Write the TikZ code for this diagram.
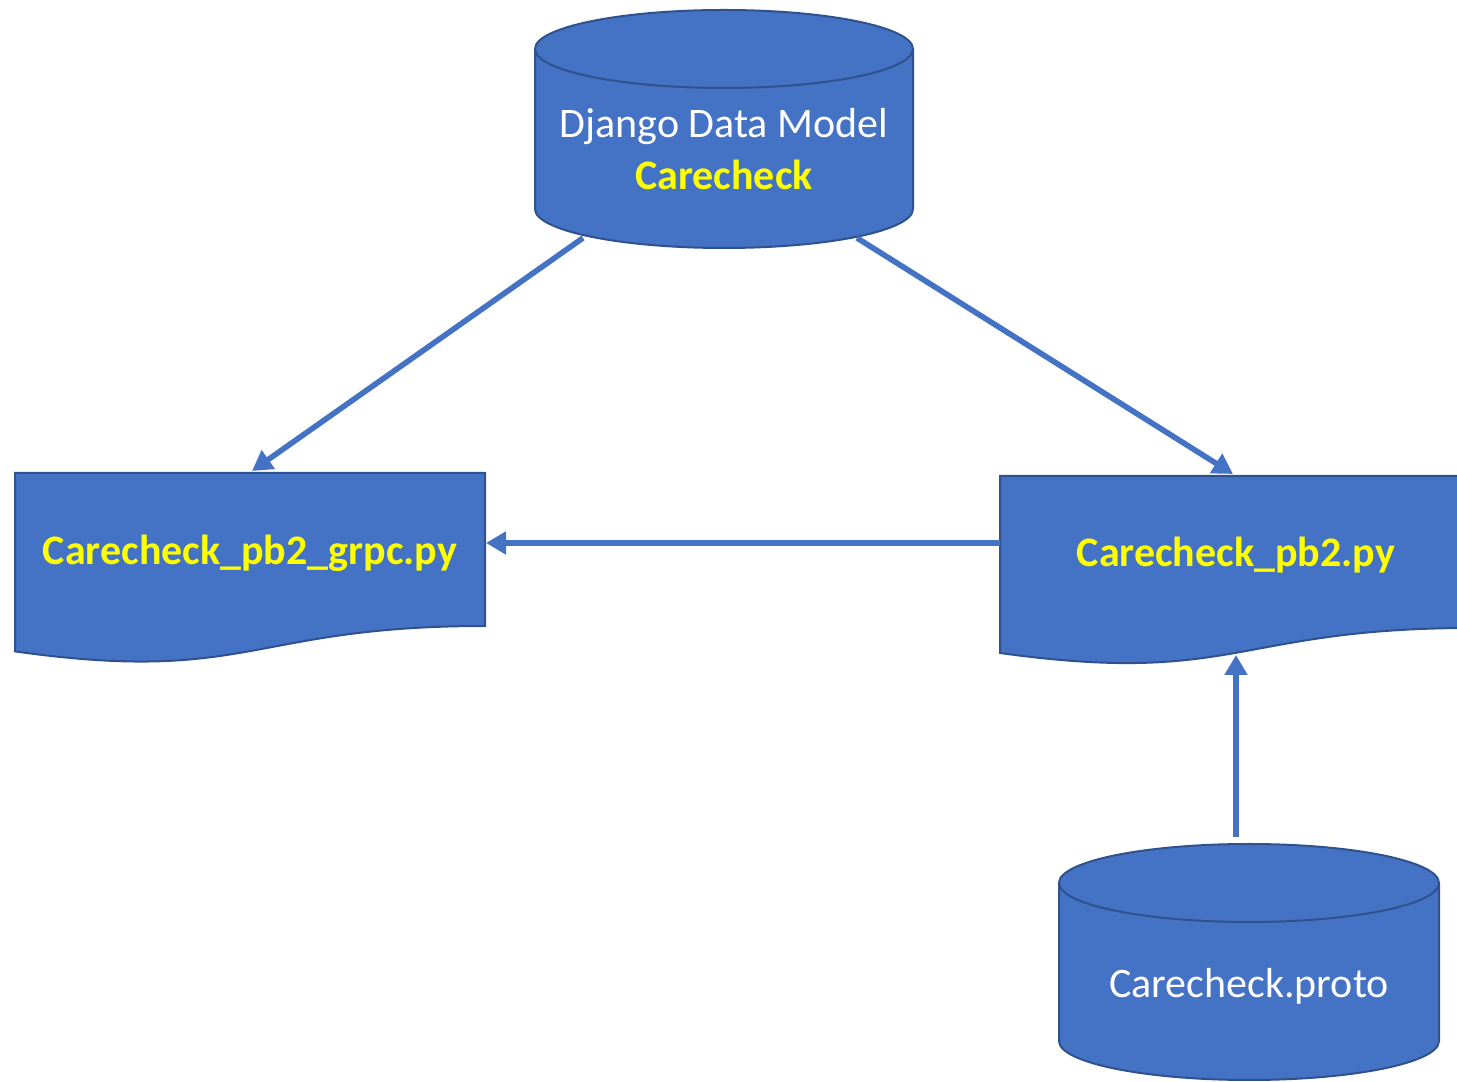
\documentclass[tikz,border=0pt]{standalone}
\usepackage{fontspec}
\setmainfont{Carlito}
\usetikzlibrary{arrows.meta}
\definecolor{boxfill}{HTML}{4472C4}
\definecolor{boxline}{HTML}{2F528F}
\definecolor{hilite}{HTML}{FFFF00}
\tikzset{
  shapebody/.style={fill=boxfill,draw=boxline,line width=1pt},
  rimline/.style={draw=boxline,line width=1pt},
  flowarrow/.style={draw=boxfill,line width=2.8pt,-{Triangle[length=10pt,width=11pt]}},
  plainlabel/.style={text=white,inner sep=0pt,font=\fontsize{21}{25}\selectfont},
  filelabel/.style={text=hilite,inner sep=0pt,font=\bfseries\fontsize{21}{25}\selectfont},
}
\begin{document}
\begin{tikzpicture}[x=0.5pt,y=0.5pt]
\useasboundingbox (0,0) rectangle (1457,1082);
\clip (0,0) rectangle (1457,1082);

% Django data model cylinder
\path[shapebody] (535,1033) -- (535,873)
  arc[start angle=180,end angle=360,x radius=94.5pt,y radius=19.5pt]
  -- (913,1033)
  arc[start angle=0,end angle=180,x radius=94.5pt,y radius=19.5pt] -- cycle;
\draw[rimline] (535,1033) arc[start angle=180,end angle=360,x radius=94.5pt,y radius=19.5pt];
\node[plainlabel] (djangoTitle) at (724,955) {Django Data Model};
\node[filelabel] (djangoName) at (724,907) {Carecheck};

% Carecheck.proto cylinder
\path[shapebody] (1059,199) -- (1059,41)
  arc[start angle=180,end angle=360,x radius=95pt,y radius=19.5pt]
  -- (1439,199)
  arc[start angle=0,end angle=180,x radius=95pt,y radius=19.5pt] -- cycle;
\draw[rimline] (1059,199) arc[start angle=180,end angle=360,x radius=95pt,y radius=19.5pt];
\node[plainlabel] (protoName) at (1249,96) {Carecheck.proto};

% Carecheck_pb2_grpc.py document
\path[shapebody] (15,609) -- (485,609) -- (485,456)
  .. controls (250,456) and (250,397.5) .. (15,430.6) -- cycle;
\node[filelabel] (grpcName) at (250,529) {Carecheck\_pb2\_grpc.py};

% Carecheck_pb2.py document
\path[shapebody] (1000,606) -- (1472,606) -- (1472,454)
  .. controls (1236,454) and (1236,396.2) .. (1000,429) -- cycle;
\node[filelabel] (pbName) at (1236,527) {Carecheck\_pb2.py};

% connector end points on the shape outlines
\coordinate (djangoLeft) at (583,844);
\coordinate (djangoRight) at (857,844);
\coordinate (grpcTop) at (252,611);
\coordinate (grpcSide) at (486,539);
\coordinate (pbTop) at (1233,608);
\coordinate (pbSide) at (1000,539);
\coordinate (pbBottom) at (1236,427);
\coordinate (protoTop) at (1236,245);

\draw[flowarrow] (djangoLeft) -- (grpcTop);
\draw[flowarrow] (djangoRight) -- (pbTop);
\draw[flowarrow] (pbSide) -- (grpcSide);
\draw[flowarrow] (protoTop) -- (pbBottom);
\end{tikzpicture}
\end{document}
